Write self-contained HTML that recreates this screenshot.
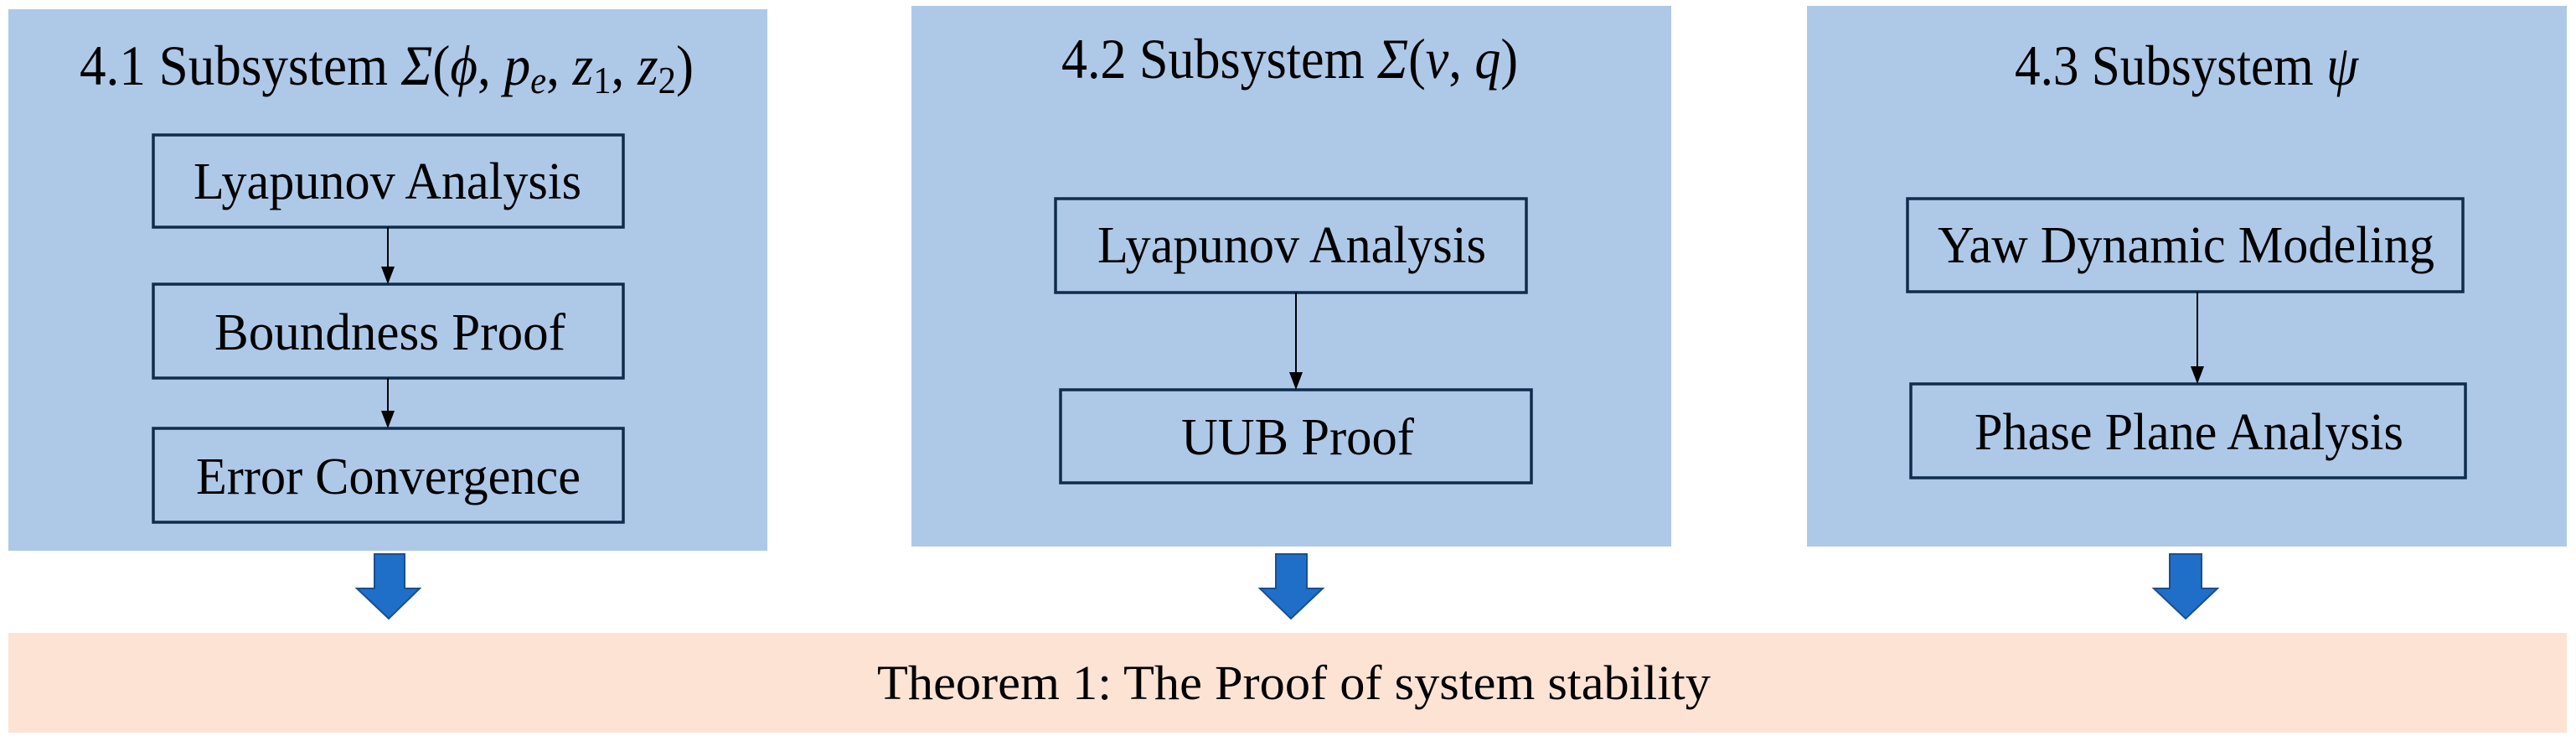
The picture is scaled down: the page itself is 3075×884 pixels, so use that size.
<!DOCTYPE html>
<html><head><meta charset="utf-8"><style>
html,body{margin:0;padding:0;background:#fff;}
svg{display:block;}
text{font-family:"Liberation Serif",serif;fill:#000;}
</style></head><body>
<svg width="3075" height="884" viewBox="0 0 3075 884" xmlns="http://www.w3.org/2000/svg">
<rect x="0" y="0" width="3075" height="884" fill="#ffffff"/>
<!-- panels -->
<rect x="10" y="11" width="906" height="646" fill="#aec8e8"/>
<rect x="1088" y="7" width="907" height="645" fill="#aec8e8"/>
<rect x="2157" y="7" width="907" height="645" fill="#aec8e8"/>
<!-- bottom band -->
<rect x="10" y="755" width="3054" height="119" fill="#fde3d4"/>
<text x="1047" y="834" font-size="58" textLength="995" lengthAdjust="spacingAndGlyphs">Theorem 1: The  Proof of system stability</text>

<!-- titles -->
<text x="95" y="101" font-size="68" textLength="733" lengthAdjust="spacingAndGlyphs">4.1 Subsystem <tspan font-style="italic">Σ</tspan>(<tspan font-style="italic">ϕ</tspan>, <tspan font-style="italic">p</tspan><tspan font-style="italic" font-size="46" dy="10">e</tspan><tspan dy="-10">, </tspan><tspan font-style="italic">z</tspan><tspan font-size="46" dy="10">1</tspan><tspan dy="-10">, </tspan><tspan font-style="italic">z</tspan><tspan font-size="46" dy="10">2</tspan><tspan dy="-10">)</tspan></text>
<text x="1267" y="93" font-size="68" textLength="545" lengthAdjust="spacingAndGlyphs">4.2 Subsystem <tspan font-style="italic">Σ</tspan>(<tspan font-style="italic">v</tspan>, <tspan font-style="italic">q</tspan>)</text>
<text x="2405" y="101" font-size="68" textLength="410" lengthAdjust="spacingAndGlyphs">4.3 Subsystem <tspan font-style="italic">ψ</tspan></text>

<!-- boxes panel 1 -->
<g fill="none" stroke="#0f2c4c" stroke-width="3.5">
<rect x="183" y="161" width="561" height="110"/>
<rect x="183" y="339" width="561" height="112"/>
<rect x="183" y="511" width="561" height="112"/>
<rect x="1260" y="237" width="562" height="112"/>
<rect x="1266" y="465" width="562" height="111"/>
<rect x="2277" y="237" width="663" height="111"/>
<rect x="2281" y="458" width="662" height="112"/>
</g>
<text x="231" y="237" font-size="62" textLength="463" lengthAdjust="spacingAndGlyphs">Lyapunov Analysis</text>
<text x="256" y="417" font-size="62" textLength="419" lengthAdjust="spacingAndGlyphs">Boundness Proof</text>
<text x="234" y="589" font-size="62" textLength="459" lengthAdjust="spacingAndGlyphs">Error Convergence</text>
<text x="1310" y="313" font-size="62" textLength="464" lengthAdjust="spacingAndGlyphs">Lyapunov Analysis</text>
<text x="1410" y="542" font-size="62" textLength="278" lengthAdjust="spacingAndGlyphs">UUB Proof</text>
<text x="2313" y="313" font-size="62" textLength="593" lengthAdjust="spacingAndGlyphs">Yaw Dynamic Modeling</text>
<text x="2357" y="536" font-size="62" textLength="512" lengthAdjust="spacingAndGlyphs">Phase Plane Analysis</text>

<!-- small arrows -->
<g stroke="#000" stroke-width="2">
<line x1="463" y1="271" x2="463" y2="322"/>
<line x1="463" y1="451" x2="463" y2="494"/>
<line x1="1547" y1="349" x2="1547" y2="446"/>
<line x1="2623" y1="348" x2="2623" y2="440"/>
</g>
<g fill="#000">
<polygon points="455,318 471,318 463,339"/>
<polygon points="455,490 471,490 463,511"/>
<polygon points="1539,444 1555,444 1547,465"/>
<polygon points="2615,437 2631,437 2623,458"/>
</g>

<!-- blue arrows -->
<g fill="#1f6fc8" stroke="#1a4f8f" stroke-width="2">
<polygon points="447,661 483,661 483,702 501,702 464,738 426,702 447,702"/>
<polygon points="1523,661 1560,661 1560,702 1579,702 1541,738 1504,702 1523,702"/>
<polygon points="2590,661 2628,661 2628,702 2647,702 2609,738 2571,702 2590,702"/>
</g>
</svg>
</body></html>
